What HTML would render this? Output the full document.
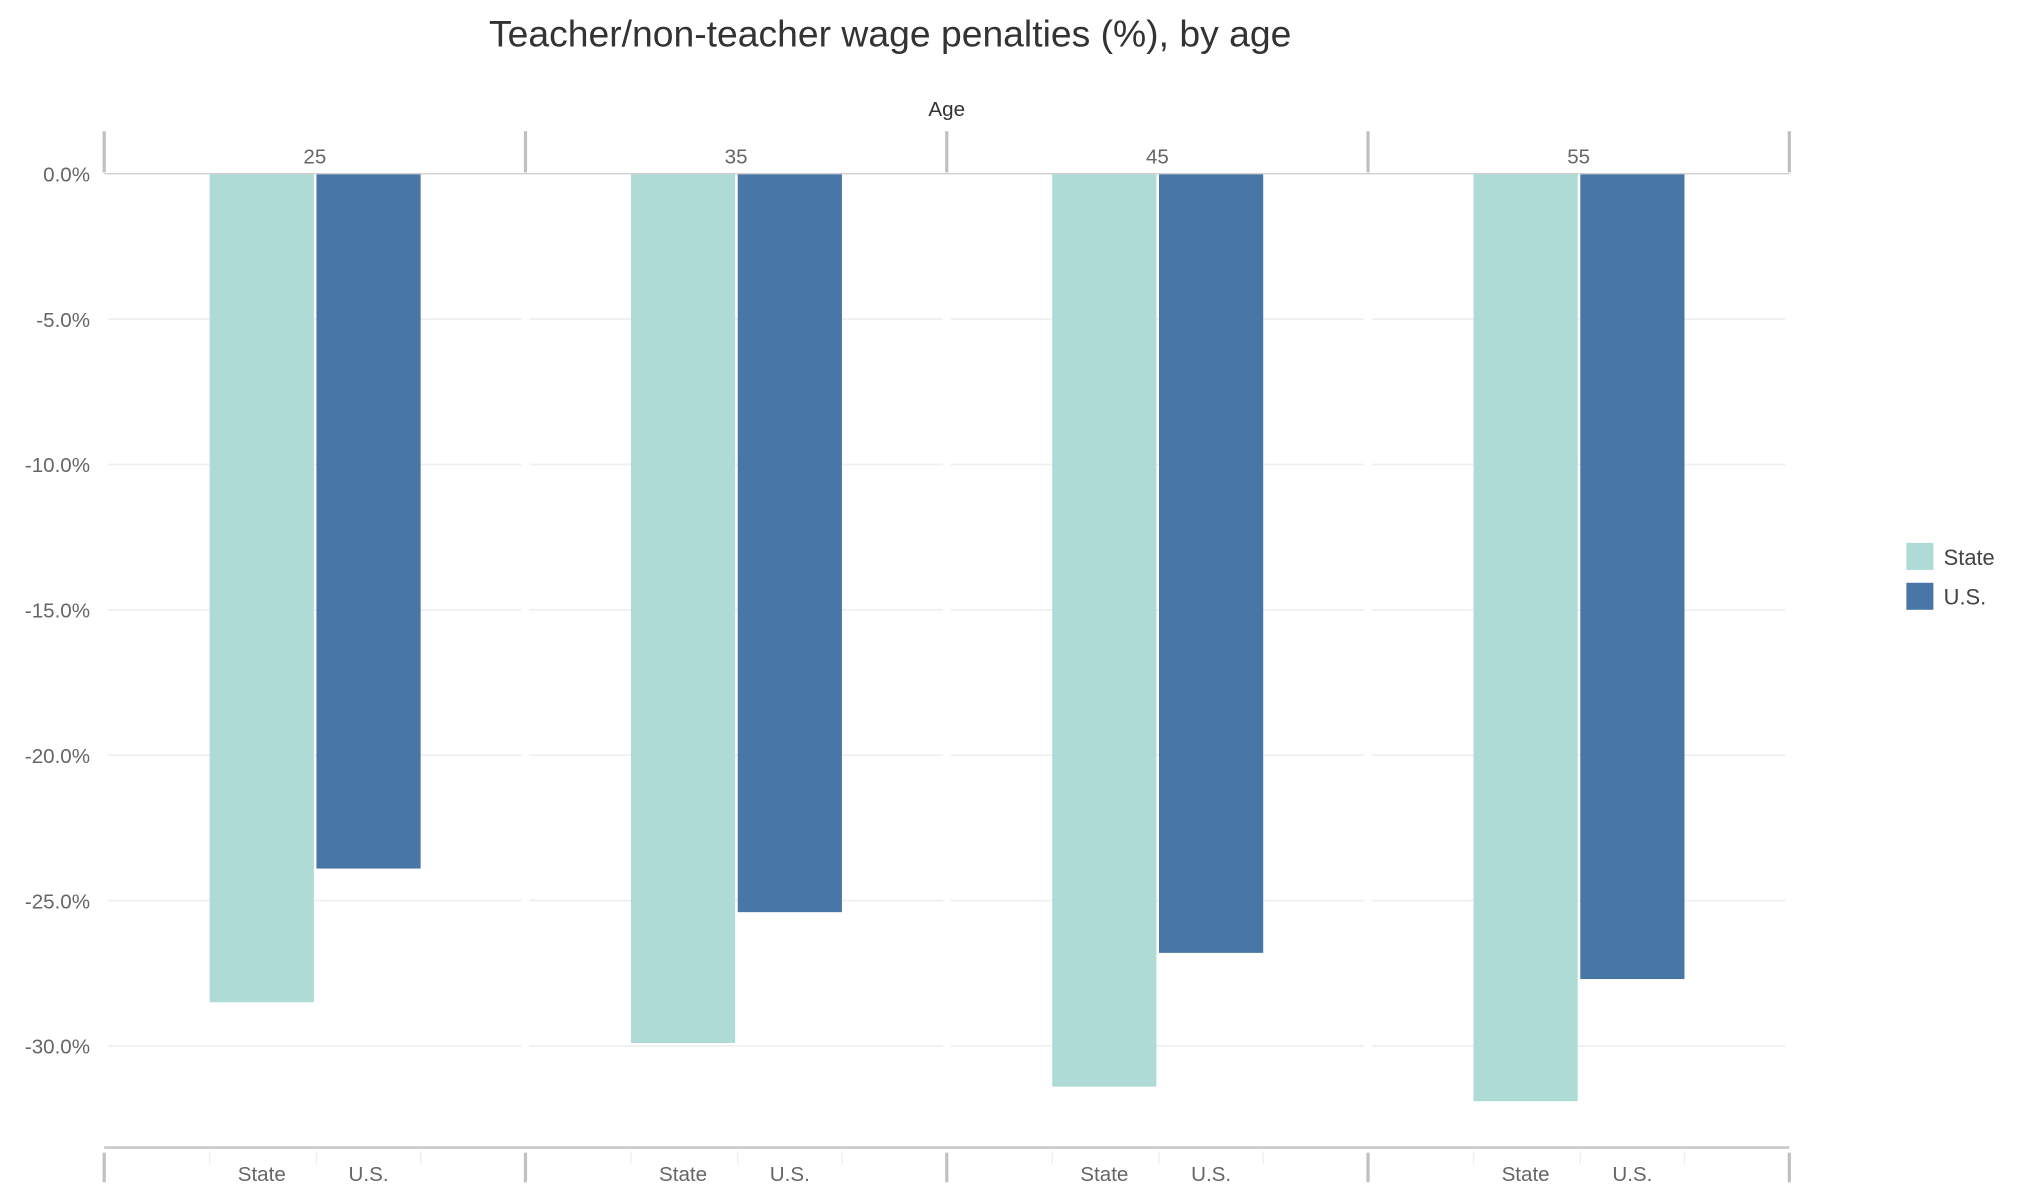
<!DOCTYPE html>
<html><head><meta charset="utf-8"><style>
html,body{margin:0;padding:0;background:#fff;}
svg{display:block;font-family:"Liberation Sans",sans-serif;}
</style></head><body>
<svg id="chart" width="2017" height="1190" viewBox="0 0 1568 925" preserveAspectRatio="none" xmlns="http://www.w3.org/2000/svg">
<text x="692" y="36" text-anchor="middle" font-size="29" fill="#333">Teacher/non-teacher wage penalties (%), by age</text>
<text x="736" y="90" text-anchor="middle" font-size="16" fill="#333">Age</text>
<g id="grid"></g>
<g id="bars"></g>
<g id="axes"></g>
<g>
<rect x="1482" y="422" width="21" height="21" fill="#aedbd6"/>
<text x="1511" y="439" font-size="17" fill="#444">State</text>
<rect x="1482" y="453" width="21" height="21" fill="#4877a7"/>
<text x="1511" y="470" font-size="17" fill="#444">U.S.</text>
</g>
</svg>
<script>
const ages = ["25","35","45","55"];
const stateValues = [-28.5, -29.9, -31.4, -31.9];
const usValues = [-23.9, -25.4, -26.8, -27.7];
const yTicks = [0, -5, -10, -15, -20, -25, -30];
const yTickLabels = ["0.0%","-5.0%","-10.0%","-15.0%","-20.0%","-25.0%","-30.0%"];
const seriesLabels = ["State","U.S."];

const NS="http://www.w3.org/2000/svg";
const paneX0=81, paneW=327.5, y0=135, pxPerPct=22.6;
function yScale(v){return y0 - v*pxPerPct;}
function paneLeft(i){return paneX0 + i*paneW;}
function mk(tag, attrs, parent){const e=document.createElementNS(NS,tag);for(const k in attrs)e.setAttribute(k,attrs[k]);parent.appendChild(e);return e;}
const grid=document.getElementById('grid'), bars=document.getElementById('bars'), axes=document.getElementById('axes');

yTicks.forEach((t,j)=>{
  const y=yScale(t);
  if(t!==0){
    for(let i=0;i<ages.length;i++){
      const g=mk('line',{x1:paneLeft(i)+3,x2:paneLeft(i+1)-3,y1:y,y2:y,stroke:'#f0f0f0','stroke-width':1.5},grid);
      
      
    }
  }
  const lb=mk('text',{x:70,y:y+6,'text-anchor':'end','font-size':16,fill:'#666'},axes);
  lb.textContent=yTickLabels[j];
  
  
});

const bw=81;
ages.forEach((a,i)=>{
  const L=paneLeft(i);
  const sx=L+82, ux=L+165;
  const r1=mk('rect',{x:sx,y:y0,width:bw,height:yScale(stateValues[i])-y0,fill:'#aedbd6'},bars);
  
  
  const r2=mk('rect',{x:ux,y:y0,width:bw,height:yScale(usValues[i])-y0,fill:'#4877a7'},bars);
  
  
  const h=mk('text',{x:L+paneW/2,y:127,'text-anchor':'middle','font-size':16,fill:'#666'},axes);
  h.textContent=a;
  
  
  [sx,ux].forEach((x,k)=>{
    const t=mk('text',{x:x+bw/2,y:918,'text-anchor':'middle','font-size':16,fill:'#666'},axes);
    t.textContent=seriesLabels[k];
    
    
  });
  [sx,ux,ux+bw].forEach(x=>{
    const tk=mk('line',{x1:x,x2:x,y1:895,y2:905,stroke:'#eee','stroke-width':1},axes);
    
    
  });
});
for(let i=0;i<=ages.length;i++){
  const x=paneLeft(i);
  const s1=mk('line',{x1:x,x2:x,y1:102,y2:134,stroke:'#c0c0c0','stroke-width':2.5},axes);
  
  
  const s2=mk('line',{x1:x,x2:x,y1:896,y2:919,stroke:'#c0c0c0','stroke-width':2.5},axes);
  
  
}
const hl=mk('line',{x1:paneX0,x2:paneLeft(4),y1:135,y2:135,stroke:'#d0d0d0','stroke-width':1},axes);


const bl=mk('line',{x1:paneX0,x2:paneLeft(4),y1:892,y2:892,stroke:'#c8c8c8','stroke-width':2},axes);


</script>
</body></html>
